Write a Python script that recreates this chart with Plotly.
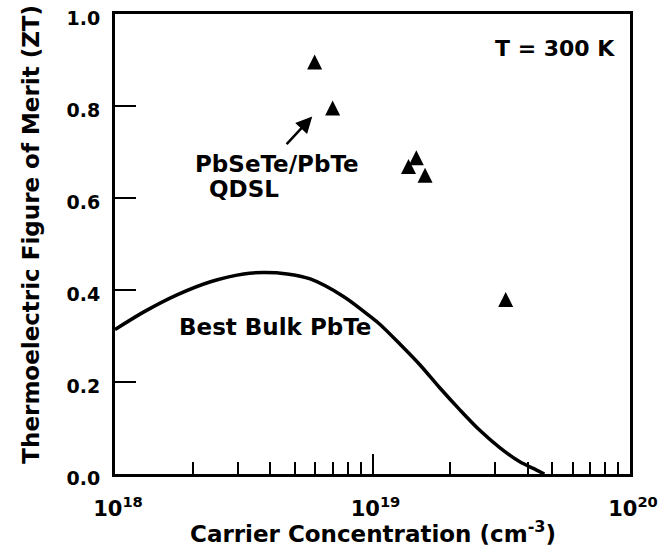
import plotly.graph_objects as go

# Best bulk PbTe curve (carrier concentration in cm^-3, ZT)
bulk_n = [1.0e18, 1.30e18, 1.75e18, 2.35e18, 3.16e18, 3.78e18, 4.66e18, 5.73e18,
          7.71e18, 9.77e18, 1.07e19, 1.28e19, 1.53e19, 1.82e19, 2.18e19, 2.61e19,
          3.11e19, 3.72e19, 4.32e19, 4.65e19]
bulk_zt = [0.314, 0.353, 0.390, 0.418, 0.435, 0.438, 0.435, 0.424,
           0.386, 0.343, 0.325, 0.282, 0.237, 0.188, 0.140, 0.095,
           0.058, 0.027, 0.009, 0.0]

# PbSeTe/PbTe QDSL measurements
qdsl_n = [5.96e18, 7.0e18, 1.38e19, 1.48e19, 1.60e19, 3.29e19]
qdsl_zt = [0.89, 0.79, 0.663, 0.682, 0.644, 0.374]

x_major = [1e18, 1e19, 1e20]
x_major_text = ["10<sup>18</sup>", "10<sup>19</sup>", "10<sup>20</sup>"]
x_minor = [m * d for d in (1e18, 1e19) for m in range(2, 10)]

FONT = "DejaVu Sans"
MSIZE = 15

fig = go.Figure()
fig.add_trace(go.Scatter(x=bulk_n, y=bulk_zt, mode="lines",
                         line=dict(color="black", width=3.5, shape="spline", smoothing=0.9),
                         showlegend=False, hoverinfo="skip"))
# near-equilateral filled triangle centred (centroid) on each point
fig.add_trace(go.Scatter(x=qdsl_n, y=qdsl_zt, mode="markers",
                         marker=dict(symbol="arrow-down", angle=180, size=MSIZE,
                                     standoff=MSIZE * 2 / 3, color="black",
                                     line=dict(width=0)),
                         showlegend=False))

fig.update_xaxes(type="log", range=[18, 20], showgrid=False, zeroline=False,
                 automargin=False, ticklabeloverflow="allow",
                 showline=True, linecolor="black", linewidth=3, mirror=True,
                 ticks="inside", ticklen=20, tickwidth=2, tickcolor="black",
                 tickmode="array", tickvals=x_major, ticktext=x_major_text,
                 tickfont=dict(family=FONT, size=21, color="black", weight="bold"),
                 ticklabelstandoff=14, ticklabelshift=3,
                 minor=dict(ticks="inside", ticklen=12, tickwidth=1.5, tickcolor="black",
                            tickmode="array", tickvals=x_minor, showgrid=False))
fig.update_yaxes(range=[0, 1], showgrid=False, zeroline=False,
                 automargin=False, ticklabeloverflow="allow",
                 showline=True, linecolor="black", linewidth=3, mirror=True,
                 ticks="inside", ticklen=21, tickwidth=2, tickcolor="black",
                 tick0=0, dtick=0.2, tickformat=".1f",
                 tickfont=dict(family=FONT, size=19, color="black", weight="bold"),
                 ticklabelstandoff=8, ticklabelshift=4)

W, H = 517.0, 462.5
X0, Y0 = 114.0, 475.0

def px(x, y):
    return (x - X0) / W, (Y0 - y) / H

annos = []
def add_text(text, x, y, size=23, angle=0):
    xp, yp = px(x, y)
    annos.append(dict(text=text, x=xp, y=yp, xref="paper", yref="paper",
                      showarrow=False, xanchor="center", yanchor="middle",
                      textangle=angle,
                      font=dict(family=FONT, size=size, color="black", weight="bold")))

add_text("T = 300 K", 556, 47, size=22)
add_text("PbSeTe/PbTe", 277, 163)
add_text("QDSL", 244, 188)
add_text("Best Bulk PbTe", 275, 327)
add_text("Carrier Concentration (cm<sup>-3</sup>)", 372.5, 533)
add_text("Thermoelectric Figure of Merit (ZT)", 30, 234, angle=-90)

annos.append(dict(text="", x=18.766, y=0.777, xref="x", yref="y",
                  ax=-27, ay=29, axref="pixel", ayref="pixel",
                  showarrow=True, arrowhead=2, arrowsize=1.3, arrowwidth=2.5,
                  arrowcolor="black", standoff=0))

fig.update_layout(width=661, height=550,
                  margin=dict(l=115, r=31, t=14, b=76),
                  plot_bgcolor="white", paper_bgcolor="white",
                  font=dict(family=FONT, color="black"),
                  annotations=annos)

# remove the browser's default 8px body margin so the figure sits at (0, 0)
fig.write_html("out.html", config={"displayModeBar": False},
               post_script="document.body.style.margin='0';")
